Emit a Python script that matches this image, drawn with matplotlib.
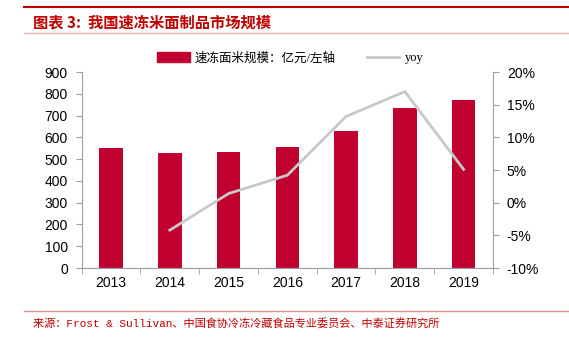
import matplotlib.pyplot as plt
from matplotlib.lines import Line2D
from matplotlib.ticker import FuncFormatter

plt.rcParams['font.family'] = ['Liberation Sans', 'Noto Sans CJK SC', 'DejaVu Sans']

years = ["2013", "2014", "2015", "2016", "2017", "2018", "2019"]
scale = [549, 526, 534, 556, 629, 736, 773]
yoy_years = ["2014", "2015", "2016", "2017", "2018", "2019"]
yoy = [-4.2, 1.4, 4.2, 13.2, 17.0, 5.1]

red = "#C0002F"
gray = "#C8C8C8"
axis_gray = "#A0A0A0"

fig = plt.figure(figsize=(5.69, 3.39), dpi=100)
ax = fig.add_axes([0.1436, 0.2094, 0.7228, 0.5782])

x = list(range(len(years)))
ax.bar(x, scale, width=0.4, color=red, zorder=2)
ax.set_ylim(0, 900)
ax.set_yticks(range(0, 901, 100))
ax.set_xlim(-0.5, len(years) - 0.5)
ax.set_xticks(x)
ax.set_xticklabels(years)
ax.set_xticks([i + 0.5 for i in range(-1, len(years))], minor=True)
ax.tick_params(axis="x", which="major", length=0, labelsize=10, pad=6)
ax.tick_params(axis="x", which="minor", length=4, color=axis_gray)
ax.tick_params(axis="y", length=4, color=axis_gray, labelsize=10, pad=6)

ax2 = ax.twinx()
xi = [years.index(y) for y in yoy_years]
ax2.plot(xi, yoy, color=gray, lw=2, zorder=3)
ax2.set_ylim(-10, 20)
ax2.set_yticks(range(-10, 21, 5))
ax2.yaxis.set_major_formatter(FuncFormatter(lambda v, p: f"{v:.0f}%"))
ax2.tick_params(axis="y", length=4, color=axis_gray, labelsize=10, pad=6)

for a in (ax, ax2):
    a.spines["top"].set_visible(False)
    for s in ("left", "right", "bottom"):
        a.spines[s].set_color(axis_gray)
ax.spines["right"].set_visible(False)
ax2.spines["left"].set_visible(False)

handles = [
    plt.Rectangle((0, 0), 1, 1, color=red),
    Line2D([0], [0], color=gray, lw=2),
]
fig.legend(handles, ["速冻面米规模：亿元/左轴", "yoy"], loc="center",
           bbox_to_anchor=(0.51, 0.828), ncol=2, frameon=False,
           prop={"family": ["Liberation Serif", "Noto Sans CJK SC", "DejaVu Sans"], "size": 9},
           handlelength=2.6, handleheight=0.8, columnspacing=2.5, handletextpad=0.4)

# header and footer decoration
fig.add_artist(Line2D([0.042, 1.0], [0.979, 0.979], color="#C00000", lw=1.5))
fig.add_artist(Line2D([0.042, 1.0], [0.902, 0.902], color="#F0B0B0", lw=1))
fig.add_artist(Line2D([0.042, 1.0], [0.083, 0.083], color="#E09090", lw=1))

fig.text(0.058, 0.935, "图表 3:  我国速冻米面制品市场规模", color="#C00000",
         fontsize=11, fontweight="bold", style="italic",
         family=["Noto Sans CJK SC", "DejaVu Sans"], va="center")
fig.text(0.058, 0.044, "来源：Frost & Sullivan、中国食协冷冻冷藏食品专业委员会、中泰证券研究所",
         color="#C00000", fontsize=8,
         family=["Liberation Mono", "Noto Sans CJK SC", "DejaVu Sans"], va="center")

fig.savefig("out.png", dpi=100)
